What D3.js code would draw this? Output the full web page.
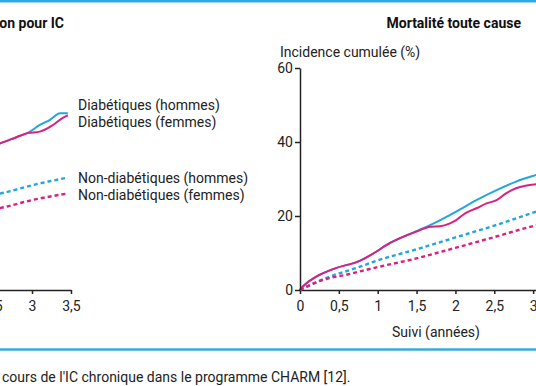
<!DOCTYPE html>
<html>
<head>
<meta charset="utf-8">
<script src="https://cdn.jsdelivr.net/npm/d3@7"></script>
<style>
  body { margin: 0; background: #fff; }
  svg { display: block; font-family: Roboto, "Liberation Sans", sans-serif; }
  .axis path, .axis line { stroke: #222; stroke-width: 1.5; }
  .axis text { font-size: 14px; fill: #222; font-family: Roboto, sans-serif; }
</style>
</head>
<body>
<script>
'use strict';

// tick labels
var xTicks = [0, 0.5, 1, 1.5, 2, 2.5, 3, 3.5];
var xTicksLeft = [2.5, 3, 3.5];   // only these are in view on the left panel
var yTicks = [0, 20, 40, 60];

// legend labels (left panel)
var legendLabels = ["Diabétiques (hommes)", "Diabétiques (femmes)",
                    "Non-diabétiques (hommes)", "Non-diabétiques (femmes)"];

// left panel : hospitalisation pour IC  [years, %]
var hospDiabH    = [[2.5, 39.0], [2.6, 39.7], [2.8, 41.3], [2.94, 42.4], [3.1, 44.6], [3.23, 46.0], [3.36, 47.8], [3.46, 47.8]];
var hospDiabF    = [[2.5, 39.0], [2.6, 39.7], [2.8, 41.3], [2.94, 42.4], [3.1, 42.8], [3.27, 44.6], [3.4, 46.6], [3.46, 47.2]];
var hospNonDiabH = [[2.5, 25.7], [2.6, 26.1], [3.0, 28.3], [3.46, 30.4]];
var hospNonDiabF = [[2.5, 21.8], [2.6, 22.2], [3.0, 24.3], [3.46, 26.1]];

// right panel : mortalité toute cause  [years, %]
var mortDiabH    = [[0, 0], [0.05, 1.2], [0.21, 3.6], [0.46, 5.9], [0.76, 7.8], [1.0, 10.6], [1.1, 12.0], [1.5, 15.9], [1.68, 17.6], [2.01, 21.2], [2.27, 24.3], [2.53, 27.0], [2.78, 29.3], [3.04, 31.1], [3.1, 31.5]];
var mortDiabF    = [[0, 0], [0.05, 1.2], [0.21, 3.6], [0.46, 5.9], [0.76, 7.8], [1.0, 10.6], [1.1, 12.0], [1.5, 15.8], [1.68, 17.1], [1.8, 17.2], [1.93, 18.0], [2.01, 18.9], [2.13, 20.8], [2.27, 22.1], [2.4, 23.4], [2.53, 24.3], [2.65, 26.1], [2.78, 27.5], [2.9, 28.2], [3.04, 28.6], [3.1, 28.7]];
var mortNonDiabH = [[0, 0], [0.38, 3.6], [0.72, 5.9], [1.0, 8.0], [1.5, 11.0], [2.0, 14.2], [2.5, 17.4], [3.04, 21.2], [3.1, 21.6]];
var mortNonDiabF = [[0, 0], [0.29, 2.7], [0.59, 4.1], [1.0, 6.2], [1.45, 8.3], [2.0, 11.4], [2.5, 14.3], [3.04, 17.5], [3.1, 17.8]];

(function() {

    var width = 536,
        height = 386;

    var cyan = "#22a6dd",
        magenta = "#dc1f80",
        ruleBlue = "#2fa9df";

    var svg = d3.select("body")
        .append("svg")
        .attr("width", width)
        .attr("height", height);

    // blue rules top and bottom
    svg.append("rect").attr("x", 0).attr("y", 0).attr("width", width).attr("height", 2.5).attr("fill", ruleBlue);
    svg.append("rect").attr("x", 0).attr("y", 348.3).attr("width", width).attr("height", 2.4).attr("fill", ruleBlue);

    var y = d3.scaleLinear().domain([0, 60]).range([290, 68]);

    var xLeft = d3.scaleLinear().domain([0, 3.5]).range([-202, 71]);
    var xRight = d3.scaleLinear().domain([0, 3.5]).range([300, 572]);

    var fmt = function(d) { return String(d).replace(".", ","); };

    var series = [
        { left: hospDiabH,    right: mortDiabH,    color: cyan,    dash: null },
        { left: hospNonDiabH, right: mortNonDiabH, color: cyan,    dash: "4,3" },
        { left: hospNonDiabF, right: mortNonDiabF, color: magenta, dash: "4,3" },
        { left: hospDiabF,    right: mortDiabF,    color: magenta, dash: null }
    ];

    function drawPanel(x, key, ticks, cls) {
        var g = svg.append("g").attr("class", cls);

        g.append("g")
            .attr("class", "axis")
            .attr("transform", "translate(0," + y(0) + ")")
            .call(d3.axisBottom(x).tickValues(ticks).tickFormat(fmt).tickSize(4).tickSizeOuter(0).tickPadding(7));

        var line = d3.line()
            .x(function(d) { return x(d[0]); })
            .y(function(d) { return y(d[1]); })
            .curve(d3.curveMonotoneX);

        g.selectAll(".serie")
            .data(series)
            .enter()
            .append("path")
            .attr("class", "serie")
            .attr("d", function(s) { return line(s[key]); })
            .attr("fill", "none")
            .attr("stroke", function(s) { return s.color; })
            .attr("stroke-width", function(s) { return s.dash ? 2.4 : 2; })
            .attr("stroke-dasharray", function(s) { return s.dash; });
        return g;
    }

    drawPanel(xLeft, "left", xTicksLeft, "left-panel");
    var right = drawPanel(xRight, "right", xTicks, "right-panel");

    right.append("g")
        .attr("class", "axis")
        .attr("transform", "translate(" + xRight(0) + ",0)")
        .call(d3.axisLeft(y).tickValues(yTicks).tickSize(5).tickSizeOuter(0).tickPadding(2));

    // titles
    svg.append("text")
        .attr("x", 64).attr("y", 28.3)
        .attr("text-anchor", "end")
        .attr("font-size", "14px").attr("font-weight", "bold").attr("fill", "#111")
        .text("Hospitalisation pour IC");

    svg.append("text")
        .attr("x", 521).attr("y", 28.3)
        .attr("text-anchor", "end")
        .attr("font-size", "14px").attr("font-weight", "bold").attr("fill", "#111")
        .text("Mortalité toute cause");

    svg.append("text")
        .attr("x", 280).attr("y", 56.7)
        .attr("font-size", "14px").attr("fill", "#222")
        .text("Incidence cumulée (%)");

    svg.append("text")
        .attr("x", xRight(1.75)).attr("y", 337)
        .attr("text-anchor", "middle")
        .attr("font-size", "14px").attr("fill", "#222")
        .text("Suivi (années)");

    // legend
    var legendY = [110, 127, 183.3, 200.3];
    svg.selectAll(".legend")
        .data(legendLabels)
        .enter()
        .append("text")
        .attr("class", "legend")
        .attr("x", 78)
        .attr("y", function(d, i) { return legendY[i]; })
        .attr("font-size", "14px").attr("fill", "#222")
        .text(function(d) { return d; });

    // caption
    svg.append("text")
        .attr("x", 2).attr("y", 381.5)
        .attr("font-size", "14px").attr("fill", "#222")
        .text("cours de l'IC chronique dans le programme CHARM [12].");
})();
</script>
</body>
</html>
